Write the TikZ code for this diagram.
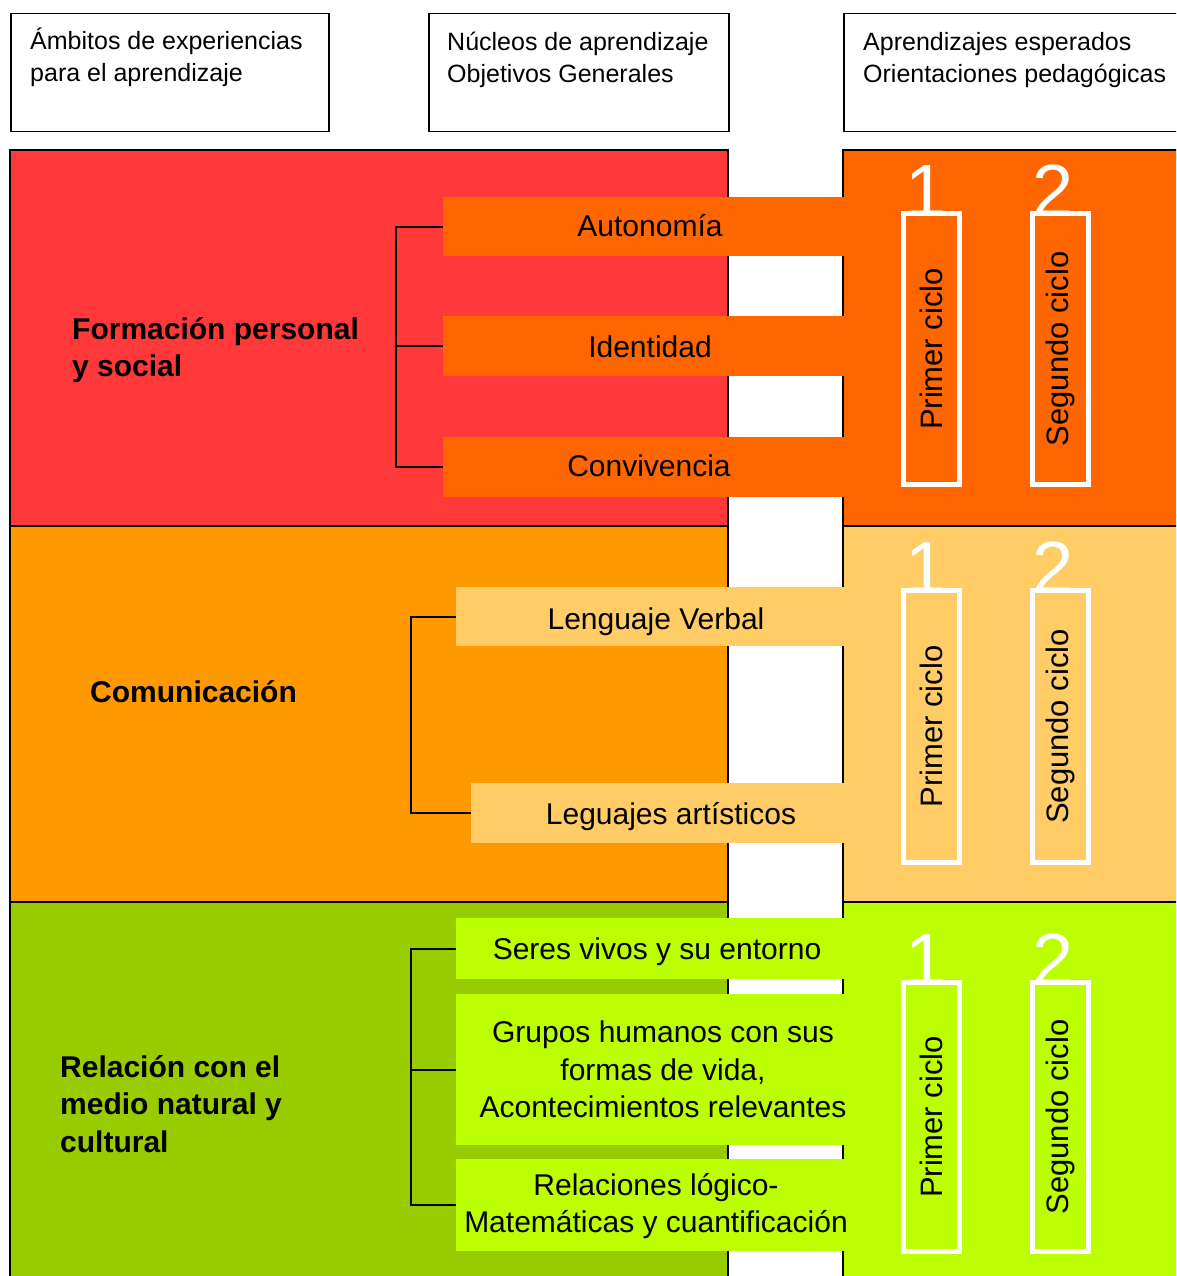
\documentclass[tikz,border=0pt]{standalone}
\usepackage{fontspec}
\setmainfont{Liberation Sans}
\definecolor{redL}{HTML}{FF3939}
\definecolor{orR}{HTML}{FF6600}
\definecolor{orL}{HTML}{FF9900}
\definecolor{ltR}{HTML}{FFCC66}
\definecolor{grL}{HTML}{99CC00}
\definecolor{limeR}{HTML}{BBFF00}
\begin{document}
\begin{tikzpicture}[x=1pt,y=-1pt,
  hdr/.style={draw=black,line width=1.5,fill=white,anchor=north west,inner sep=0,minimum height=118},
  hdrtext/.style={anchor=north west,inner sep=0,align=left,font=\fontsize{25}{32}\selectfont},
  bar/.style={anchor=north west,inner sep=0,draw=none,minimum width=400},
  bartext/.style={anchor=base,inner sep=0,font=\fontsize{30}{37.5}\selectfont},
  barmulti/.style={anchor=center,inner sep=0,align=center,font=\fontsize{30}{37.5}\selectfont},
  ambito/.style={anchor=north west,inner sep=0,align=left,font=\fontsize{30}{37.5}\selectfont\bfseries},
  cyclebox/.style={draw=white,line width=5,anchor=north west,inner sep=0,minimum width=56},
  cycletext/.style={rotate=90,inner sep=0,font=\fontsize{31}{31}\selectfont},
  digit/.style={anchor=base,text=white,inner sep=0,font=\fontsize{74}{74}\selectfont},
  panelline/.style={draw=black,line width=1.5},
  bracket/.style={draw=black,line width=2}]
\useasboundingbox (0,0) rectangle (1176,1276);
\fill[white] (0,0) rectangle (1176,1276);
\clip (0,0) rectangle (1176,1276);

% header boxes
\node[hdr,minimum width=318] (h1) at (10,13) {};
\node[hdr,minimum width=300] (h2) at (428,13) {};
\node[hdr,minimum width=360] (h3) at (843,13) {};
\node[hdrtext] (h1t) at (30,28) {Ámbitos de experiencias\\para el aprendizaje};
\node[hdrtext] (h2t) at (447,32) {Núcleos de aprendizaje\\Objetivos Generales};
\node[hdrtext] (h3t) at (863,32) {Aprendizajes esperados\\Orientaciones pedagógicas};

% left panel bands
\fill[redL] (10,150) rectangle (728,526);
\fill[orL] (10,526) rectangle (728,902);
\fill[grL] (10,902) rectangle (728,1290);
% right panel bands
\fill[orR] (843,150) rectangle (1190,526);
\fill[ltR] (843,526) rectangle (1190,902);
\fill[limeR] (843,902) rectangle (1190,1290);
% borders
\draw[panelline] (10,150) rectangle (728,1290);
\draw[panelline] (10,526) -- (728,526);
\draw[panelline] (10,902) -- (728,902);
\draw[panelline] (843,150) rectangle (1190,1290);
\draw[panelline] (843,526) -- (1190,526);
\draw[panelline] (843,902) -- (1190,902);

% bars
\node[bar,fill=orR,minimum width=407,minimum height=59] (b1) at (443,197) {};
\node[bar,fill=orR,minimum width=407,minimum height=60] (b2) at (443,316) {};
\node[bar,fill=orR,minimum width=407,minimum height=60] (b3) at (443,437) {};
\node[bar,fill=ltR,minimum width=394,minimum height=59] (b4) at (456,587) {};
\node[bar,fill=ltR,minimum width=379,minimum height=60] (b5) at (471,783) {};
\node[bar,fill=limeR,minimum width=394,minimum height=61] (b6) at (456,918) {};
\node[bar,fill=limeR,minimum width=394,minimum height=151] (b7) at (456,994) {};
\node[bar,fill=limeR,minimum width=394,minimum height=92] (b8) at (456,1159) {};

% brackets
\draw[bracket] (b1.west) -- ++(-47,0) |- (b3.west);
\draw[bracket] (b2.west) -- ++(-47,0);
\draw[bracket] (b4.west) -- ++(-45,0) |- (b5.west);
\draw[bracket] (b6.west) -- ++(-45,0) |- (b8.west);
\draw[bracket] (b7.west) -- ++(-45,0);

% bar texts
\node[bartext] (t1) at (650,236) {Autonomía};
\node[bartext] (t2) at (650,357) {Identidad};
\node[bartext] (t3) at (649,476) {Convivencia};
\node[bartext] (t4) at (656,629) {Lenguaje Verbal};
\node[bartext] (t5) at (671,824) {Leguajes artísticos};
\node[bartext] (t6) at (657,959) {Seres vivos y su entorno};
\node[barmulti] (t7) at (663,1069.5) {Grupos humanos con sus\\formas de vida,\\Acontecimientos relevantes};
\node[barmulti] (t8) at (656,1206) {Relaciones lógico-\\Matemáticas y cuantificación};

% ambito labels
\node[ambito] (a1) at (72,317) {Formación personal\\y social};
\node[anchor=base west,inner sep=0,font=\fontsize{30}{37.5}\selectfont\bfseries] (a2) at (90,702) {Comunicación};
\node[ambito] (a3) at (60,1055) {Relación con el\\medio natural y\\cultural};

% cycle boxes
\foreach \n/\y/\h in {1/211/271,2/588/272,3/980/269}{
  \node[cyclebox,minimum height=\h] (p\n) at (901,\y) {};
  \node[cyclebox,minimum height=\h] (s\n) at (1030,\y) {};
  \node[cycletext] (pt\n) at (p\n.center) {Primer ciclo};
  \node[cycletext] (st\n) at (s\n.center) {Segundo ciclo};
  \node[digit] (d1\n) at ([shift={(25,5)}]p\n.north west) {1};
  \node[digit] (d2\n) at ([shift={(23,5)}]s\n.north west) {2};
}
\end{tikzpicture}
\end{document}
